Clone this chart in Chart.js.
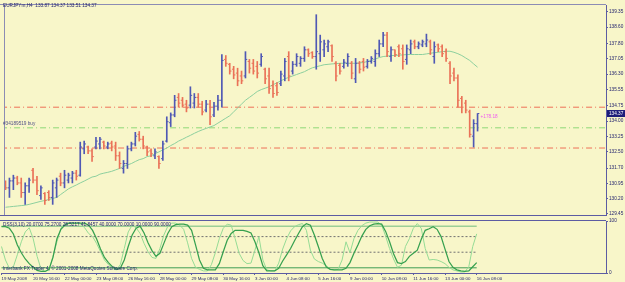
<!DOCTYPE html>
<html>
<head>
<meta charset="utf-8">
<script src="https://cdn.jsdelivr.net/npm/chart.js@4.4.1/dist/chart.umd.min.js"></script>
<style>
  html, body { margin: 0; padding: 0; background: #f8f6c9; }
  #wrap { position: relative; width: 625px; height: 282px; overflow: hidden; background: #f8f6c9; }
  #price { position: absolute; left: 0; top: 0; }
  #osc { position: absolute; left: 0; top: 216px; }
</style>
</head>
<body>
<div id="wrap">
  <canvas id="price" width="625" height="220"></canvas>
  <canvas id="osc" width="625" height="66"></canvas>
</div>
<script>
// EURJPYm H4 bars, 19 May 2008 .. 16 Jun 2008 08:00
const opens = [131.02,130.73,131.07,131.21,130.97,130.50,130.83,131.59,131.11,130.35,
  130.45,130.50,130.26,130.73,131.30,130.97,131.11,131.21,131.45,131.35,
  132.64,132.73,132.54,132.73,132.88,132.97,132.73,132.92,132.78,132.30,
  131.68,131.92,132.64,132.88,133.35,133.11,132.73,132.54,132.30,132.26,
  132.16,133.02,133.92,134.30,135.16,135.02,134.83,134.78,134.88,135.16,
  134.83,134.54,134.83,134.30,134.73,135.02,137.02,136.78,136.54,136.35,
  136.21,136.21,136.92,136.83,136.68,136.78,136.54,136.21,135.73,135.73,
  135.83,136.21,137.16,136.45,136.78,136.83,137.07,137.49,137.35,137.16,
  137.30,137.49,137.64,137.69,136.83,136.73,136.68,136.83,136.83,136.07,
  136.83,136.92,136.68,136.92,136.92,137.30,137.78,138.21,137.16,137.49,
  137.64,137.54,137.02,137.49,137.88,137.64,137.73,137.78,137.88,137.16,
  137.73,137.64,137.40,136.83,136.35,136.11,135.11,134.88,134.45,133.26,
  133.87];
const highs = [131.07,131.21,131.35,131.30,131.21,130.97,131.21,131.68,131.30,130.83,
  130.50,130.59,131.11,131.21,131.45,131.59,131.45,131.54,131.59,132.97,
  133.02,132.78,132.64,133.21,133.21,133.02,132.97,133.02,132.97,132.49,
  132.07,132.78,132.97,133.45,133.49,133.26,132.78,132.64,132.64,132.30,
  133.02,134.21,134.40,135.26,135.35,135.16,135.02,135.68,135.35,135.35,
  134.97,135.02,135.02,134.92,135.26,137.26,137.21,136.83,136.68,136.59,
  136.45,137.40,137.02,137.02,136.92,137.30,136.59,136.59,135.97,135.88,
  136.45,137.07,137.40,136.92,137.30,137.16,137.64,137.54,137.40,139.21,
  138.21,137.97,137.97,137.73,136.92,136.83,137.02,137.30,136.92,137.07,
  136.92,137.07,137.02,137.16,137.49,137.97,138.35,138.35,137.64,137.49,
  137.73,137.73,137.73,137.97,137.97,137.88,137.97,138.26,137.97,137.88,
  137.78,137.73,137.54,136.92,136.59,136.26,135.21,135.02,134.54,134.07,
  134.37];
const lows = [130.64,130.26,130.64,130.88,130.26,129.92,130.50,130.97,130.40,130.16,
  129.92,130.11,129.92,130.26,130.83,130.73,130.97,130.97,131.11,131.30,
  132.40,132.40,132.02,132.64,132.64,132.64,132.64,132.54,132.07,131.68,
  131.45,131.68,132.54,132.78,133.02,132.64,132.30,132.26,132.16,131.68,
  132.07,132.97,133.73,134.21,134.68,134.68,134.45,134.64,134.64,134.68,
  134.30,134.45,133.83,134.21,134.54,134.68,136.68,136.30,136.07,135.73,
  135.83,136.11,136.35,136.30,136.11,136.68,135.83,135.35,135.16,135.26,
  135.73,135.97,135.97,136.30,136.68,136.68,136.92,137.16,137.07,136.54,
  136.92,137.16,137.40,136.92,135.97,136.30,136.59,136.68,136.07,135.88,
  136.35,136.45,136.59,136.83,136.68,137.16,137.64,137.16,136.92,137.16,
  137.16,136.54,136.78,137.30,137.54,137.54,137.64,137.64,137.26,136.83,
  137.40,137.16,136.92,135.83,135.97,134.68,134.40,134.40,133.21,132.73,
  133.51];
const closes = [130.73,131.07,131.21,130.97,130.50,130.83,131.11,131.11,130.59,130.73,
  130.11,130.26,130.97,131.11,130.97,131.35,131.35,131.45,131.30,132.73,
  132.88,132.54,132.26,133.02,133.11,132.78,132.88,132.73,132.30,131.92,
  131.92,132.64,132.88,133.26,133.11,132.78,132.49,132.40,132.49,131.92,
  132.88,133.97,134.30,135.02,134.88,134.78,134.64,135.26,135.16,134.83,
  134.45,134.83,134.21,134.73,135.02,136.97,136.83,136.45,136.26,135.97,
  135.97,137.02,136.59,136.45,136.35,137.16,136.07,135.59,135.35,135.40,
  136.30,136.92,136.21,136.78,137.16,137.07,137.49,137.30,137.16,137.40,
  137.88,137.78,137.88,137.16,136.21,136.45,136.88,137.16,136.35,136.83,
  136.54,136.64,136.92,137.07,137.30,137.78,138.21,137.40,137.49,137.26,
  137.30,136.92,137.54,137.78,137.64,137.78,137.88,137.97,137.49,137.64,
  137.54,137.30,137.07,136.21,136.11,135.02,134.68,134.54,133.35,133.88,
  134.37];
// moving average drawn on the price window
const maValues = [129.78,129.80,129.82,129.84,129.86,129.88,129.92,129.97,130.02,130.07,
  130.11,130.16,130.21,130.26,130.40,130.54,130.68,130.78,130.87,130.97,
  131.06,131.16,131.26,131.30,131.40,131.45,131.49,131.54,131.61,131.68,
  131.78,131.85,131.92,132.02,132.11,132.16,132.26,132.30,132.40,132.49,
  132.59,132.68,132.80,132.90,133.02,133.11,133.21,133.30,133.40,133.49,
  133.57,133.64,133.71,133.78,133.90,134.02,134.14,134.26,134.45,134.64,
  134.83,135.02,135.16,135.30,135.45,135.54,135.61,135.68,135.78,135.87,
  135.97,136.07,136.14,136.21,136.28,136.35,136.42,136.52,136.61,136.66,
  136.71,136.76,136.78,136.80,136.81,136.83,136.83,136.83,136.83,136.83,
  136.85,136.87,136.92,136.97,137.04,137.11,137.16,137.18,137.21,137.21,
  137.23,137.24,137.26,137.26,137.26,137.26,137.26,137.29,137.32,137.35,
  137.37,137.40,137.42,137.42,137.37,137.30,137.21,137.09,136.97,136.80,
  136.64];
// DSS oscillator (thick line and thin line)
const dssMain = [89,89,86,75,54,39,27,18,11,5,
  3,3,7,30,66,84,92,96,96,96,
  96,96,92,82,66,46,30,20,12,7,
  9,25,51,73,86,90,77,58,43,32,
  38,57,76,89,93,94,94,92,82,54,
  25,9,6,6,6,18,41,63,76,82,
  82,82,80,77,60,39,14,4,4,4,
  9,23,35,47,62,76,89,95,92,73,
  51,28,12,7,6,6,6,9,20,38,
  54,71,84,91,94,95,94,80,60,37,
  20,18,22,32,38,44,65,82,85,89,
  84,70,46,22,11,6,4,3,4,12,
  20.07];
const dssSignal = [51,25,9,12,35,60,79,87,66,32,
  7,3,6,32,60,86,95,96,96,96,
  94,87,76,70,57,41,25,16,9,6,
  16,47,79,92,87,76,57,41,30,28,
  47,73,90,96,96,92,84,58,28,11,
  7,4,4,16,39,66,86,94,92,66,
  38,24,18,19,44,70,25,6,4,4,
  19,46,66,81,89,93,95,82,44,27,
  22,19,14,7,6,7,25,60,39,66,
  82,91,96,98,98,98,92,71,47,27,
  11,15,51,66,86,95,86,47,25,26,
  25,22,18,11,6,4,2,2,12,51,
  75.27];
const dssLevels = [90, 70, 40, 10];

const priceTicks = [139.35,138.60,137.80,137.05,136.30,135.55,134.75,134.00,133.25,132.50,131.70,130.95,130.20,129.45];
const timeTickBars = [0,8,16,24,32,40,48,56,64,72,80,88,96,104,112,120];
const timeLabels = ['19 May 2008','20 May 16:00','22 May 00:00','23 May 08:00','26 May 16:00','28 May 00:00',
  '29 May 08:00','30 May 16:00','3 Jun 00:00','4 Jun 08:00','5 Jun 16:00','9 Jun 00:00',
  '10 Jun 08:00','11 Jun 16:00','13 Jun 00:00','16 Jun 08:00'];

// order lines
const tpLevel = 134.68;
const buyLevel = 133.67;
const slLevel = 132.68;
const profitText = '+178.18';

const X_MIN = -0.126, X_MAX = 152.65;
const UP = '#4f58b4', DOWN = '#ea7258';
const FONT = '"Liberation Sans", Arial, sans-serif';
const NAVY = '#23236e';
const AXIS = '#5c5ca2';

const last = closes.length - 1;
const barColors = closes.map((c, i) => c >= opens[i] ? UP : DOWN);

function hLine(level, color, dash) {
  return {
    type: 'line', order: 10,
    data: [{x: X_MIN - 1, y: level}, {x: X_MAX + 1, y: level}],
    borderColor: color, borderWidth: 1, borderDash: dash, pointRadius: 0
  };
}

const priceText = {
  id: 'priceText',
  afterDraw(chart) {
    const {ctx, chartArea: a, scales: {x, y}} = chart;
    ctx.save();
    ctx.lineWidth = 1;
    ctx.strokeStyle = '#8c8cb4';
    ctx.beginPath();
    ctx.moveTo(0, a.top - 0.5); ctx.lineTo(a.right, a.top - 0.5);
    ctx.moveTo(a.left - 0.5, a.top); ctx.lineTo(a.left - 0.5, a.bottom);
    ctx.stroke();
    ctx.strokeStyle = AXIS;
    ctx.beginPath();
    ctx.moveTo(0, a.bottom + 0.5); ctx.lineTo(a.right, a.bottom + 0.5);
    ctx.stroke();

    ctx.font = '4.7px ' + FONT;
    ctx.textBaseline = 'middle';
    ctx.fillStyle = NAVY;
    ctx.fillText('EURJPYm,H4  ' + opens[last].toFixed(2) + ' ' + highs[last].toFixed(2) + ' ' +
      lows[last].toFixed(2) + ' ' + closes[last].toFixed(2), 3, 6);
    ctx.fillStyle = '#505088';
    ctx.fillText('#34189519 buy', 3, y.getPixelForValue(buyLevel) - 4);
    ctx.fillStyle = '#f05cf0';
    ctx.fillText(profitText, x.getPixelForValue(last) + 3, y.getPixelForValue(closes[last]) + 3.5);

    const py = y.getPixelForValue(closes[last]);
    ctx.fillStyle = '#1c1c7a';
    ctx.fillRect(a.right + 1, py - 3.5, 625 - a.right - 1, 7);
    ctx.fillStyle = '#ffffff';
    ctx.fillText(closes[last].toFixed(2), a.right + 3, py);
    ctx.restore();
  }
};

new Chart(document.getElementById('price'), {
  type: 'bar',
  data: {
    datasets: [
      {
        type: 'bar', order: 1,
        data: highs.map((h, i) => ({x: i, y: [lows[i], h]})),
        backgroundColor: barColors, borderWidth: 0, barThickness: 1, grouped: false
      },
      {
        type: 'scatter', order: 2,
        data: opens.map((o, i) => ({x: i - 0.25, y: o})),
        pointStyle: 'line', pointRadius: 0.8, pointBorderWidth: 1, pointBorderColor: barColors
      },
      {
        type: 'scatter', order: 2,
        data: closes.map((c, i) => ({x: i + 0.25, y: c})),
        pointStyle: 'line', pointRadius: 0.8, pointBorderWidth: 1, pointBorderColor: barColors
      },
      {
        type: 'line', order: 3,
        data: maValues.map((v, i) => ({x: i, y: v})),
        borderColor: '#8ccf9e', borderWidth: 1, pointRadius: 0, tension: 0
      },
      hLine(tpLevel, '#ee7058', [6, 3, 1, 3]),
      hLine(buyLevel, '#8ed877', [6, 3, 1, 3]),
      hLine(slLevel, '#ee7058', [6, 3, 1, 3])
    ]
  },
  options: {
    responsive: false,
    animation: false,
    events: [],
    layout: {padding: {left: 1, top: 2, bottom: 2, right: 0}},
    plugins: {legend: {display: false}, tooltip: {enabled: false}},
    scales: {
      x: {type: 'linear', min: X_MIN, max: X_MAX, display: false, offset: false},
      y: {
        position: 'right', min: 129.40, max: 139.685,
        afterFit(s) { s.width = 19; },
        afterBuildTicks(s) { s.ticks = priceTicks.map(v => ({value: v})); },
        grid: {drawOnChartArea: false, drawTicks: true, tickLength: 2, color: AXIS},
        border: {color: AXIS},
        ticks: {font: {size: 4.7, family: FONT}, color: NAVY, padding: 1, autoSkip: false,
          callback: v => Number(v).toFixed(2)}
      }
    }
  },
  plugins: [priceText]
});

const oscText = {
  id: 'oscText',
  afterDraw(chart) {
    const {ctx, chartArea: a} = chart;
    ctx.save();
    ctx.lineWidth = 1;
    ctx.strokeStyle = AXIS;
    ctx.beginPath();
    ctx.moveTo(0, a.top - 0.5); ctx.lineTo(a.right, a.top - 0.5);
    ctx.stroke();
    ctx.font = '4.7px ' + FONT;
    ctx.textBaseline = 'middle';
    ctx.fillStyle = NAVY;
    ctx.fillText('DSS(3,10) ' + dssMain[last].toFixed(4) + ' ' + dssSignal[last].toFixed(4) +
      ' 28.5217 41.8457 40.0000 70.0000 10.0000 90.0000', 3, a.top + 3.5);
    ctx.fillText('Interbank FX Trader 4, \u00a9 2001-2008 MetaQuotes Software Corp.', 3, a.bottom - 4);
    ctx.restore();
  }
};

function levelLine(v, color, width, dash) {
  return {
    type: 'line', order: 5,
    data: [{x: 0, y: v}, {x: last, y: v}],
    borderColor: color, borderWidth: width, borderDash: dash, pointRadius: 0
  };
}

new Chart(document.getElementById('osc'), {
  type: 'line',
  data: {
    datasets: [
      {
        order: 1,
        data: dssMain.map((v, i) => ({x: i, y: v})),
        borderColor: '#36a04f', borderWidth: 1.25, pointRadius: 0, tension: 0
      },
      {
        order: 2,
        data: dssSignal.map((v, i) => ({x: i, y: v})),
        borderColor: '#95db95', borderWidth: 1, pointRadius: 0, tension: 0
      },
      levelLine(dssLevels[0], '#9ccf96', 1.5, []),
      levelLine(dssLevels[1], '#707070', 1, [2, 2]),
      levelLine(dssLevels[2], '#707070', 1, [2, 2]),
      levelLine(dssLevels[3], '#3f9f55', 1, [])
    ]
  },
  options: {
    responsive: false,
    animation: false,
    events: [],
    layout: {padding: {left: 1, top: 5, bottom: 0, right: 0}},
    plugins: {legend: {display: false}, tooltip: {enabled: false}},
    scales: {
      x: {
        type: 'linear', min: X_MIN, max: X_MAX, offset: false,
        afterFit(s) { s.height = 9; },
        afterBuildTicks(s) { s.ticks = timeTickBars.map(v => ({value: v})); },
        grid: {drawOnChartArea: false, drawTicks: true, tickLength: 2, color: AXIS},
        border: {color: AXIS},
        ticks: {font: {size: 4.4, family: FONT}, color: NAVY, padding: 1, align: 'start',
          maxRotation: 0, autoSkip: false, callback: (v, i) => timeLabels[i]}
      },
      y: {
        position: 'right', min: 0, max: 100,
        afterFit(s) { s.width = 19; },
        afterBuildTicks(s) { s.ticks = [{value: 100}, {value: 0}]; },
        grid: {drawOnChartArea: false, drawTicks: true, tickLength: 2, color: AXIS},
        border: {color: AXIS},
        ticks: {font: {size: 4.7, family: FONT}, color: NAVY, padding: 1, autoSkip: false}
      }
    }
  },
  plugins: [oscText]
});
</script>
</body>
</html>
